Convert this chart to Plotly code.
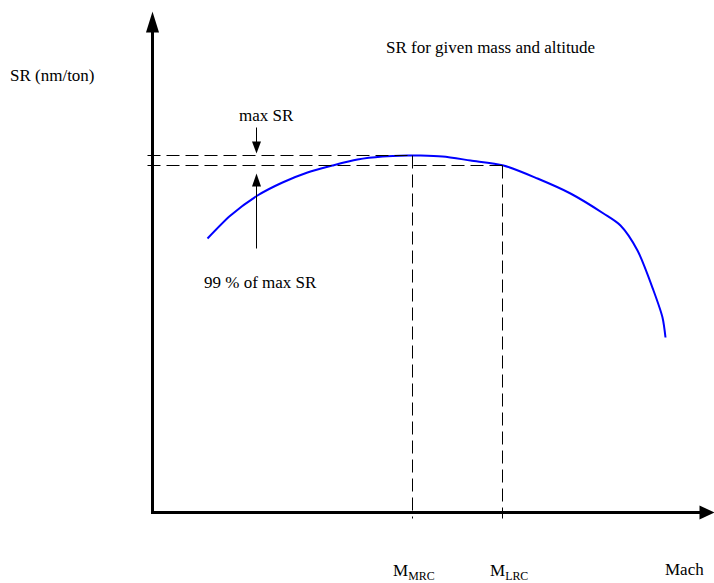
import plotly.graph_objects as go

# Schematic SR-vs-Mach curve (arbitrary units, origin at the axes corner)
mach = [55, 78, 105, 130, 155, 180, 205, 230, 255, 268, 290, 318, 351, 385, 418, 451, 468, 485, 501, 510, 513]
sr = [274, 297, 317, 330, 340, 347, 353, 356, 357, 357, 356, 352, 347, 334, 319, 299, 287, 262, 222, 195, 175]

max_sr = 357
sr_99 = 347
m_mrc = 260
m_lrc = 350

x_axis_end = 562
y_axis_end = 501

title_text = "SR for given mass and altitude"
y_label = "SR (nm/ton)"
x_label = "Mach"
max_label = "max SR"
pct_label = "99 % of max SR"

FONT = "Liberation Serif"
FS = 17

fig = go.Figure()
fig.add_trace(go.Scatter(
    x=mach, y=sr, mode="lines",
    line=dict(color="#0000ff", width=2, shape="spline", smoothing=0.8),
    hoverinfo="skip", showlegend=False,
))

shapes = []


def tri(tip, direction, length, half):
    tx, ty = tip
    dx, dy = direction
    bx, by = tx - dx * length, ty - dy * length
    px, py = -dy * half, dx * half
    return dict(type="path", xref="x", yref="y",
                path=f"M {tx},{ty} L {bx+px},{by+py} L {bx-px},{by-py} Z",
                fillcolor="black", line=dict(width=0))


# axes
shapes.append(dict(type="line", xref="x", yref="y", x0=0, y0=-1.5, x1=0, y1=y_axis_end - 20,
                   line=dict(color="black", width=3)))
shapes.append(tri((0, y_axis_end), (0, 1), 21, 6.5))
shapes.append(dict(type="line", xref="x", yref="y", x0=-1.5, y0=0, x1=x_axis_end - 14, y1=0,
                   line=dict(color="black", width=3)))
shapes.append(tri((x_axis_end, 0), (1, 0), 15, 7))

dash = "13px,6px"
# horizontal dashed reference lines
shapes.append(dict(type="line", xref="x", yref="y", x0=-5, y0=max_sr, x1=m_mrc, y1=max_sr,
                   line=dict(color="black", width=1, dash=dash)))
shapes.append(dict(type="line", xref="x", yref="y", x0=-5, y0=sr_99, x1=m_lrc, y1=sr_99,
                   line=dict(color="black", width=1, dash=dash)))
# vertical dashed lines
shapes.append(dict(type="line", xref="x", yref="y", x0=m_mrc, y0=max_sr, x1=m_mrc, y1=-6,
                   line=dict(color="black", width=1, dash=dash)))
shapes.append(dict(type="line", xref="x", yref="y", x0=m_lrc, y0=sr_99, x1=m_lrc, y1=-6,
                   line=dict(color="black", width=1, dash=dash)))

# small arrows pointing to the band
ax_x = 104
shapes.append(dict(type="line", xref="x", yref="y", x0=ax_x, y0=max_sr + 28, x1=ax_x, y1=max_sr + 12,
                   line=dict(color="black", width=1)))
shapes.append(tri((ax_x, max_sr + 2), (0, -1), 12, 4.5))
shapes.append(dict(type="line", xref="x", yref="y", x0=ax_x, y0=sr_99 - 83, x1=ax_x, y1=sr_99 - 20,
                   line=dict(color="black", width=1)))
shapes.append(tri((ax_x, sr_99 - 8), (0, 1), 13, 4.5))

annotations = [
    dict(x=338, y=465, text=title_text),
    dict(x=-100, y=437, text=y_label),
    dict(x=114, y=397, text=max_label),
    dict(x=108, y=230, text=pct_label),
    dict(x=532, y=-57, text=x_label),
    dict(x=m_mrc - 22, y=-59, text="M<sub>MRC</sub>", xanchor="left"),
    dict(x=m_lrc - 15, y=-59, text="M<sub>LRC</sub>", xanchor="left"),
]
for a in annotations:
    a.setdefault("xanchor", "center")
    a.update(xref="x", yref="y", showarrow=False, yanchor="middle",
             font=dict(family=FONT, size=FS, color="black"))

fig.update_layout(
    width=714, height=583,
    margin=dict(l=0, r=0, t=0, b=0, pad=0),
    paper_bgcolor="white", plot_bgcolor="white",
    font=dict(family=FONT, size=FS, color="black"),
    xaxis=dict(range=[-152.5, 561.5], visible=False, fixedrange=True),
    yaxis=dict(range=[-70.5, 512.5], visible=False, fixedrange=True),
    shapes=shapes, annotations=annotations,
    showlegend=False,
)

fig.write_html(
    "out.html",
    config={"displayModeBar": False},
    post_script="document.body.style.margin='0';document.body.style.overflow='hidden';",
)
